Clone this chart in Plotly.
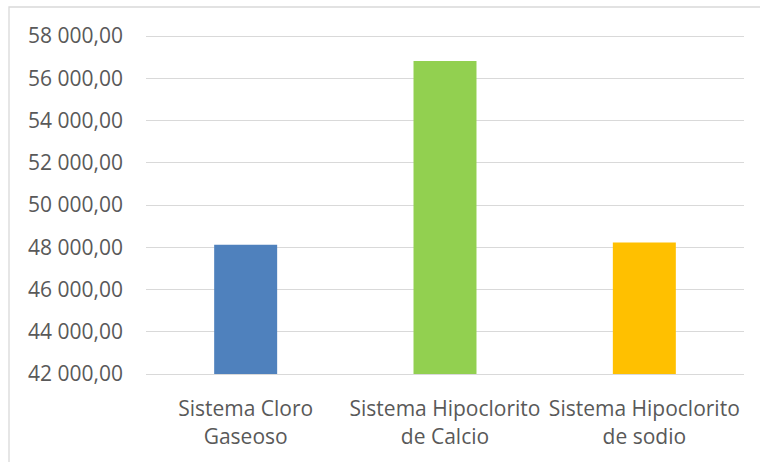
import plotly.graph_objects as go

categories = ["Sistema Cloro<br>Gaseoso", "Sistema Hipoclorito<br>de Calcio", "Sistema Hipoclorito<br>de sodio"]
values = [48120, 56820, 48220]
colors = ["#4F81BD", "#92D050", "#FFC000"]

W, H = 760, 462
L, R, T, B = 146, 16, 35, 88
pw, ph = W - L - R, H - T - B

fig = go.Figure(go.Bar(x=categories, y=values, marker=dict(color=colors, line=dict(width=0)),
                       width=0.316))

fig.update_layout(
    width=W, height=H,
    margin=dict(l=L, r=R, t=T, b=B, pad=0),
    paper_bgcolor="white", plot_bgcolor="white",
    separators=", ",
    showlegend=False,
    font=dict(family="Open Sans", size=21, color="#595959"),
    shapes=[dict(type="rect", xref="paper", yref="paper",
                 x0=(9 - L) / pw, x1=2, y0=-2, y1=(H - B - 7) / ph,
                 line=dict(color="#d9d9d9", width=1.3), fillcolor="rgba(0,0,0,0)", layer="below")],
)
fig.update_yaxes(range=[42000, 58050], dtick=2000, tick0=42000, tickformat=",.2f",
                 showgrid=True, gridcolor="#d9d9d9", gridwidth=1.3, zeroline=False,
                 showline=False, ticks="", ticklabelstandoff=22,
                 tickfont=dict(family="Open Sans", size=21, color="#595959"))
fig.update_xaxes(showgrid=False, showline=True, linecolor="#d9d9d9", linewidth=1.3, ticks="",
                 ticklabelstandoff=16,
                 tickfont=dict(family="Open Sans", size=21, color="#595959"))

fig.write_html("out.html")
